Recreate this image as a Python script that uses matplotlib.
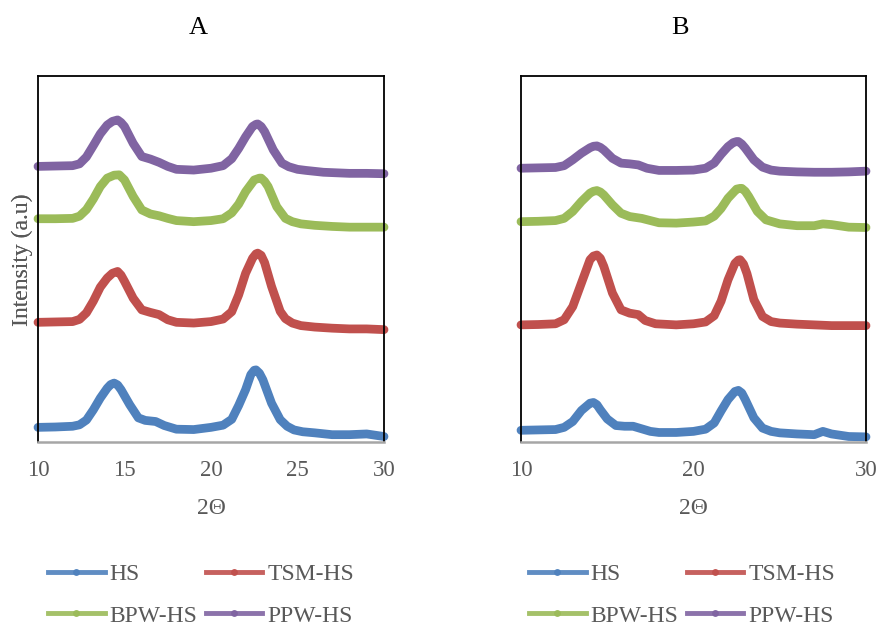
import matplotlib
matplotlib.use("Agg")
import matplotlib.pyplot as plt
from matplotlib.lines import Line2D

# ---------------- data (2Theta, intensity a.u.) ----------------
series_names = ["HS", "TSM-HS", "BPW-HS", "PPW-HS"]
colors = ["#4F81BD", "#C0504D", "#9BBB59", "#8064A2"]

# Panel A
a_hs_x = [10, 11, 12, 12.4, 12.8, 13.2, 13.6, 14, 14.2, 14.4, 14.6, 14.8, 15.3, 15.8, 16.2, 16.8, 17.3, 18, 19, 20, 20.7, 21.2, 21.6, 22, 22.3, 22.5, 22.6, 22.8, 23, 23.5, 24, 24.4, 24.8, 25.3, 26, 27, 28, 29, 30]
a_hs_y = [4.0, 4.1, 4.3, 4.7, 6.0, 8.8, 12.0, 14.7, 15.7, 16.1, 15.6, 14.3, 10.2, 6.6, 5.9, 5.6, 4.5, 3.5, 3.4, 4.0, 4.6, 6.2, 10.0, 14.3, 18.4, 19.6, 19.7, 18.8, 17.0, 10.6, 6.1, 4.3, 3.3, 2.8, 2.5, 2.0, 2.0, 2.2, 1.5]

a_tsm_x = [10, 11, 12, 12.4, 12.8, 13.2, 13.6, 14, 14.3, 14.6, 14.8, 15, 15.5, 16, 16.5, 17, 17.5, 18, 19, 20, 20.7, 21.2, 21.6, 22, 22.4, 22.6, 22.7, 22.9, 23.1, 23.5, 24, 24.3, 24.7, 25.2, 26, 27, 28, 29, 30]
a_tsm_y = [32.7, 32.8, 32.9, 33.5, 35.3, 38.5, 42.3, 44.8, 46.1, 46.6, 45.6, 43.9, 39.3, 36.1, 35.4, 34.8, 33.4, 32.7, 32.5, 32.9, 33.6, 35.6, 40.2, 46.1, 50.2, 51.4, 51.6, 51.0, 49.0, 42.5, 35.7, 33.7, 32.5, 31.8, 31.4, 31.1, 30.9, 30.9, 30.7]

a_bpw_x = [10, 11, 12, 12.4, 12.8, 13.2, 13.6, 14, 14.4, 14.7, 15, 15.5, 16, 16.5, 17, 17.5, 18, 19, 20, 20.7, 21.2, 21.6, 22, 22.5, 22.8, 22.9, 23.1, 23.3, 23.8, 24.3, 24.7, 25.2, 26, 27, 28, 29, 30]
a_bpw_y = [61.0, 61.0, 61.1, 61.7, 63.5, 66.4, 69.8, 72.1, 72.9, 73.0, 71.6, 67.1, 63.4, 62.3, 61.8, 61.1, 60.5, 60.2, 60.5, 61.0, 62.6, 65.0, 68.4, 71.6, 72.1, 72.1, 71.2, 69.8, 64.3, 61.1, 60.2, 59.6, 59.2, 58.9, 58.7, 58.7, 58.7]

a_ppw_x = [10, 11, 12, 12.4, 12.8, 13.2, 13.6, 14, 14.3, 14.6, 14.8, 15, 15.5, 16, 16.5, 17, 17.5, 18, 19, 20, 20.7, 21.2, 21.6, 22, 22.4, 22.6, 22.7, 22.9, 23.1, 23.6, 24.1, 24.5, 25, 25.5, 26.5, 28, 29, 30]
a_ppw_y = [75.3, 75.4, 75.5, 76.0, 77.9, 81.0, 84.2, 86.6, 87.6, 88.0, 87.3, 86.2, 81.6, 78.0, 77.3, 76.4, 75.3, 74.5, 74.3, 74.8, 75.5, 77.4, 80.2, 83.4, 86.2, 86.8, 86.9, 86.2, 84.8, 79.8, 76.2, 75.2, 74.5, 74.2, 73.7, 73.4, 73.4, 73.3]

# Panel B
b_hs_x = [10, 11, 12, 12.5, 13, 13.5, 14, 14.2, 14.4, 14.6, 15, 15.5, 16, 16.5, 17, 17.5, 18, 19, 20, 20.7, 21.2, 21.6, 22, 22.4, 22.6, 22.8, 23, 23.5, 24, 24.5, 25, 26, 27, 27.5, 28, 29, 30]
b_hs_y = [3.2, 3.3, 3.4, 4.0, 5.6, 8.6, 10.6, 10.8, 10.2, 8.8, 6.3, 4.5, 4.3, 4.3, 3.6, 2.9, 2.6, 2.6, 2.9, 3.5, 5.2, 8.5, 11.6, 13.8, 14.1, 13.4, 11.6, 6.6, 3.8, 2.9, 2.5, 2.2, 2.0, 2.9, 2.2, 1.5, 1.4]

b_tsm_x = [10, 11, 12, 12.5, 13, 13.5, 14, 14.2, 14.4, 14.6, 14.8, 15.3, 15.8, 16.3, 16.8, 17.2, 17.8, 19, 20, 20.7, 21.2, 21.6, 22, 22.4, 22.6, 22.7, 22.9, 23.1, 23.5, 24, 24.5, 25, 26, 27, 28, 29, 30]
b_tsm_y = [32.0, 32.1, 32.3, 33.4, 37.0, 43.4, 49.8, 50.8, 51.1, 50.2, 48.0, 40.7, 36.1, 35.2, 34.8, 33.2, 32.3, 32.0, 32.3, 32.8, 34.5, 38.5, 44.3, 48.8, 49.7, 49.8, 48.6, 46.0, 38.9, 34.3, 32.9, 32.5, 32.2, 32.0, 31.8, 31.8, 31.8]

b_bpw_x = [10, 11, 12, 12.5, 13, 13.5, 14, 14.2, 14.4, 14.6, 14.8, 15.3, 15.8, 16.3, 17, 17.5, 18, 19, 20, 20.7, 21.2, 21.6, 22, 22.5, 22.7, 22.8, 23, 23.2, 23.7, 24.2, 25, 26, 27, 27.5, 28, 29, 30]
b_bpw_y = [60.2, 60.3, 60.5, 61.1, 63.0, 65.7, 68.0, 68.5, 68.7, 68.3, 67.5, 64.8, 62.5, 61.6, 61.1, 60.5, 59.9, 59.8, 60.1, 60.4, 61.7, 63.8, 66.6, 69.1, 69.3, 69.3, 68.5, 67.1, 63.0, 60.7, 59.6, 59.1, 59.1, 59.6, 59.4, 58.7, 58.6]

b_ppw_x = [10, 11, 12, 12.5, 13, 13.5, 14, 14.2, 14.4, 14.6, 14.8, 15.3, 15.8, 16.3, 16.8, 17.3, 18, 19, 20, 20.7, 21.2, 21.6, 22, 22.3, 22.5, 22.6, 22.8, 23, 23.5, 24, 24.5, 25, 26, 27, 28, 29, 30]
b_ppw_y = [74.8, 74.9, 75.0, 75.5, 77.1, 78.9, 80.4, 80.8, 80.9, 80.5, 79.8, 77.5, 76.2, 76.0, 75.7, 74.8, 74.2, 74.2, 74.3, 74.8, 76.2, 78.6, 80.7, 81.8, 82.1, 82.1, 81.4, 80.3, 77.1, 75.1, 74.3, 74.0, 73.8, 73.7, 73.7, 73.8, 74.0]

a_ticks = [10, 15, 20, 25, 30]
b_ticks = [10, 20, 30]
x_label = "2Θ"
y_label = "Intensity (a.u)"

panels = [
    dict(title="A", ticks=a_ticks,
         xs=[a_hs_x, a_tsm_x, a_bpw_x, a_ppw_x], ys=[a_hs_y, a_tsm_y, a_bpw_y, a_ppw_y]),
    dict(title="B", ticks=b_ticks,
         xs=[b_hs_x, b_tsm_x, b_bpw_x, b_ppw_x], ys=[b_hs_y, b_tsm_y, b_bpw_y, b_ppw_y]),
]

# ---------------- figure ----------------
W, H = 879, 626
plt.rcParams['font.family'] = ['Liberation Serif', 'DejaVu Serif']
fig = plt.figure(figsize=(W / 100, H / 100), dpi=100)
gray = "#595959"

axes_px = [(38, 76, 346, 366), (521, 76, 345, 366)]   # left, top, width, height
title_x = [198, 680]
legend_cx = [201, 682]

for i, (p, (l, t, w, h)) in enumerate(zip(panels, axes_px)):
    ax = fig.add_axes([l / W, 1 - (t + h) / H, w / W, h / H])
    for name, c, xs, ys in zip(series_names, colors, p["xs"], p["ys"]):
        ax.plot(xs, ys, color=c, lw=6.3, solid_capstyle='round',
                solid_joinstyle='round', label=name, clip_on=False)
    ax.set_xlim(10, 30)
    ax.set_ylim(0, 100)
    ax.set_xticks(p["ticks"])
    ax.set_yticks([])
    ax.tick_params(axis='x', length=0, pad=13, labelsize=16.5, labelcolor=gray)
    for s in ['left', 'top', 'right']:
        ax.spines[s].set_color('black')
        ax.spines[s].set_linewidth(1.3)
    ax.spines['bottom'].set_color('#A6A6A6')
    ax.spines['bottom'].set_linewidth(1.8)
    ax.set_xlabel(x_label, fontsize=17, color=gray)
    ax.xaxis.set_label_coords(0.5, (442 - 498) / h)
    ax.set_ylabel(y_label, fontsize=17, color=gray)
    ax.yaxis.label.set_verticalalignment('center')
    ax.yaxis.set_label_coords((22 - l) / w, (442 - 260) / h)
    fig.text(title_x[i] / W, 1 - 28 / H, p["title"], fontsize=19, color='black',
             ha='center', va='center')

    handles = {n: Line2D([0, 0.5, 1], [0, 0, 0], color=c, lw=3.5, alpha=0.9,
                         marker='o', markersize=4, markevery=[1], label=n)
               for n, c in zip(series_names, colors)}
    # two columns filled column-wise -> row order HS, TSM-HS / BPW-HS, PPW-HS
    order = ["HS", "BPW-HS", "TSM-HS", "PPW-HS"]
    leg = ax.legend(handles=[handles[n] for n in order], ncol=2, loc='center',
                    frameon=False,
                    bbox_to_anchor=(legend_cx[i] / W, 1 - 595 / H),
                    bbox_transform=fig.transFigure, fontsize=17,
                    handlelength=2.4, handletextpad=0.2, columnspacing=0.35,
                    labelspacing=0.85, borderpad=0)
    for txt in leg.get_texts():
        txt.set_color(gray)

fig.savefig("out.png", dpi=100)
